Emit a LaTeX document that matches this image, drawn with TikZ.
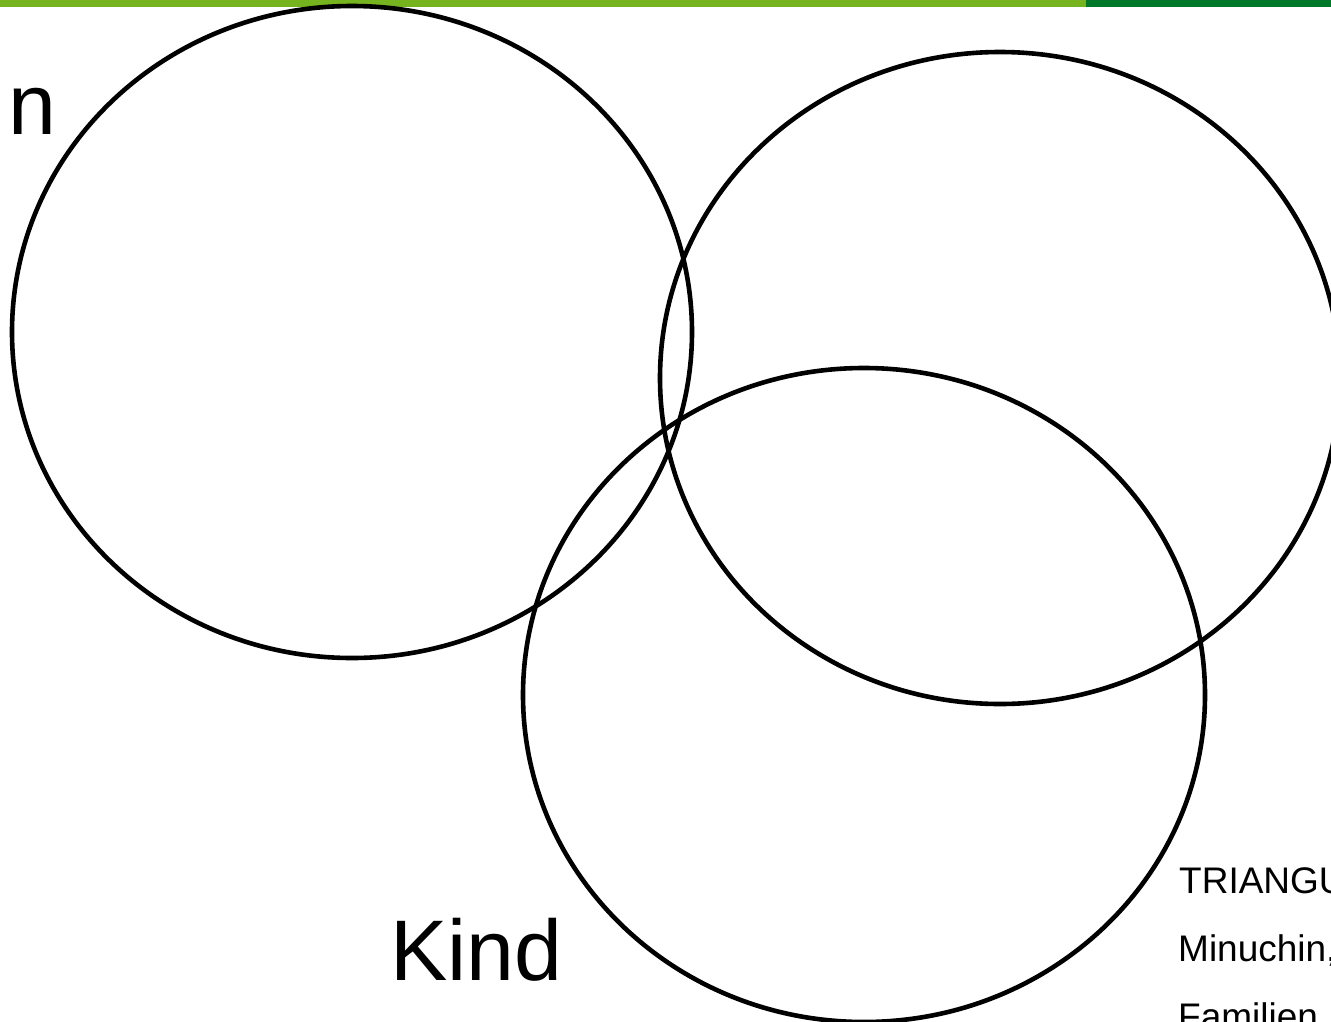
\documentclass[tikz,border=0pt]{standalone}
\usepackage{fontspec}
\setmainfont{Liberation Sans}
\usepackage{xcolor}
\usetikzlibrary{shapes.geometric}

\definecolor{barhell}{HTML}{76B41F}
\definecolor{bardunkel}{HTML}{00782A}

\begin{document}
\begin{tikzpicture}[
  x=1pt, y=-1pt,
  kreis/.style={draw=black, line width=4.6pt, ellipse, inner sep=0pt,
                minimum width=680pt, minimum height=652pt},
  gross/.style={inner sep=0pt, anchor=base west, font=\fontsize{86}{100}\selectfont},
  klein/.style={inner sep=0pt, anchor=base west, font=\fontsize{37}{44}\selectfont},
]
  \useasboundingbox (0,0) rectangle (1331,1021);
  \clip (0,0) rectangle (1331,1021);

  % Balken oben
  \fill[barhell] (0,0) rectangle (1086,7);
  \fill[bardunkel] (1086,0) rectangle (1331,7);

  % drei Kreise
  \node[kreis] (links) at (352,332) {};
  \node[kreis] (rechts) at (1000,378) {};
  \node[kreis, minimum width=682pt, minimum height=654pt] (kind) at (864,695) {};

  % Beschriftung
  \node[gross] (lbl-n) at (8,134) {n};
  \node[gross] (lbl-kind) at (390,980) {Kind};
  \node[klein] (zeile1) at (1179,893) {TRIANGU};
  \node[klein] (zeile2) at (1178,961) {Minuchin,};
  \node[klein] (zeile3) at (1178,1029) {Familien};
\end{tikzpicture}
\end{document}
